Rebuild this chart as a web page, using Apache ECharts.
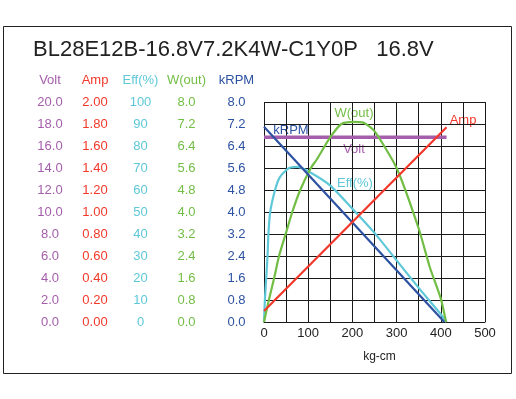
<!DOCTYPE html>
<html>
<head>
<meta charset="utf-8">
<title>BL28E12B-16.8V7.2K4W-C1Y0P</title>
<script src="https://cdn.jsdelivr.net/npm/echarts@6/dist/echarts.min.js"></script>
<style>
  html, body { margin: 0; padding: 0; background: #fff; }
  #chart { width: 516px; height: 399px; }
</style>
</head>
<body>
<div id="chart"></div>
<script>
'use strict';
// 曲线数据（从图上读出，横轴 kg-cm）
const voltTorque = [0, 413];
const voltValues = [16.8, 16.8];
const ampTorque = [0, 413];
const ampValues = [0.1, 1.77];
const effTorque = [0, 2, 5, 8, 10, 14, 25, 35, 50, 60, 75, 100, 150, 200, 250, 300, 350, 400, 413];
const effValues = [0, 10, 20, 30, 40, 50, 60, 65.5, 69, 70.2, 70.5, 68.5, 62, 51.5, 40.5, 28, 15.5, 3.5, 0];
const wTorque = [0, 11, 23, 34, 49, 64, 82, 106, 119, 150, 175, 200, 225, 250, 300, 350, 375, 400, 412];
const wValues = [0, 0.8, 1.6, 2.4, 3.2, 4.0, 4.8, 5.6, 5.9, 6.72, 7.2, 7.28, 7.25, 6.94, 5.6, 3.4, 2.0, 0.85, 0];
const rpmTorque = [0, 408];
const rpmValues = [7.1, 0];

// 左侧五列刻度
const axisNames = ['Volt', 'Amp', 'Eff(%)', 'W(out)', 'kRPM'];
const axisMax = [20, 2, 100, 8, 8];
const axisDigits = [1, 2, 0, 1, 1];

const COLOR = { volt: '#a55eac', amp: '#f2382a', eff: '#5ec8d8', w: '#72be45', rpm: '#2d52a2', grid: '#1a1a1a', text: '#222' };
const axisColors = [COLOR.volt, COLOR.amp, COLOR.eff, COLOR.w, COLOR.rpm];
const axisOffsets = [214, 169, 123.5, 77.5, 27.5];
const GRID_LEFT = 264;

const $ = (id) => document.getElementById(id);
const zip = (xs, ys) => xs.map((x, i) => [x, ys[i]]);
const FONT = 'Liberation Sans, Arial, sans-serif';

const yAxes = axisNames.map((name, i) => ({
  type: 'value',
  position: 'left',
  offset: axisOffsets[i],
  min: 0,
  max: axisMax[i],
  interval: axisMax[i] / 10,
  axisLine: { show: false },
  axisTick: { show: false },
  axisLabel: { margin: 0, align: 'center', color: axisColors[i], fontSize: 13, fontFamily: FONT, formatter: (v) => v.toFixed(axisDigits[i]) },
  splitLine: { show: i === 0, lineStyle: { color: COLOR.grid, width: 1 } }
}));

function line(data, yIdx, color, width) {
  return { type: 'line', data, yAxisIndex: yIdx, showSymbol: false, symbol: 'none', smooth: 0.2, lineStyle: { color, width }, itemStyle: { color }, silent: true, animation: false };
}

function tag(text, x, y, color) {
  return { type: 'text', x, y, style: { text, fill: color, fontSize: 13, fontFamily: FONT, align: 'center', verticalAlign: 'middle' } };
}

// 列标题放在各自刻度列的正上方
const headers = axisNames.map((name, i) => tag(name, GRID_LEFT - axisOffsets[i], 80, axisColors[i]));

const chart = echarts.init($('chart'));
chart.setOption({
  backgroundColor: '#fff',
  animation: false,
  textStyle: { fontFamily: FONT },
  grid: { left: GRID_LEFT, top: 102, width: 221, height: 220, containLabel: false },
  xAxis: {
    type: 'value', min: 0, max: 500, interval: 100,
    name: 'kg-cm', nameLocation: 'middle', nameGap: 29,
    nameTextStyle: { color: COLOR.text, fontSize: 12, padding: [0, 0, 0, 10] },
    axisLine: { show: true, lineStyle: { color: COLOR.grid } },
    axisTick: { show: false },
    axisLabel: { color: COLOR.text, fontSize: 13, margin: 5 },
    splitLine: { show: true, lineStyle: { color: COLOR.grid, width: 1 } },
    minorTick: { show: false, splitNumber: 2 },
    minorSplitLine: { show: true, lineStyle: { color: COLOR.grid, width: 1 } }
  },
  yAxis: yAxes,
  series: [
    line(zip(voltTorque, voltValues), 0, COLOR.volt, 3.5),
    line(zip(effTorque, effValues), 2, COLOR.eff, 2.2),
    line(zip(wTorque, wValues), 3, COLOR.w, 2.2),
    line(zip(rpmTorque, rpmValues), 4, COLOR.rpm, 2.2),
    line(zip(ampTorque, ampValues), 1, COLOR.amp, 2.2)
  ],
  graphic: [
    { type: 'rect', shape: { x: 3.5, y: 26.5, width: 508, height: 347 }, style: { fill: 'none', stroke: COLOR.text, lineWidth: 1 } },
    { type: 'text', x: 33, y: 50, style: { text: 'BL28E12B-16.8V7.2K4W-C1Y0P   16.8V', fill: COLOR.text, fontSize: 22, fontFamily: FONT, verticalAlign: 'middle' } },
    ...headers,
    tag('W(out)', 354, 113, COLOR.w),
    tag('Amp', 463, 120, COLOR.amp),
    tag('kRPM', 291, 130, COLOR.rpm),
    tag('Volt', 354, 149, COLOR.volt),
    tag('Eff(%)', 355, 183, COLOR.eff)
  ]
});
</script>
</body>
</html>
